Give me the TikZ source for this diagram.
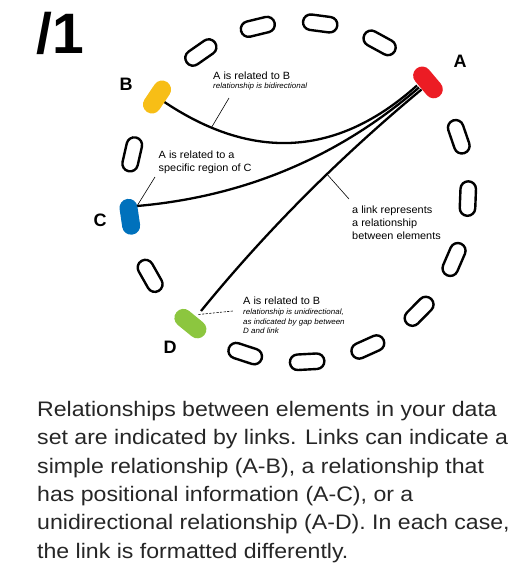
\documentclass[tikz,border=0pt]{standalone}
\usepackage{fontspec}
\setmainfont{Liberation Sans}
\newfontfamily\bodyfont[FakeStretch=1.1]{Liberation Sans}
\newfontfamily\notefont[FakeStretch=1.04]{Liberation Sans}
\usetikzlibrary{calc}
\definecolor{pred}{HTML}{EC1C24}
\definecolor{pyel}{HTML}{F7BE16}
\definecolor{pblue}{HTML}{0071BC}
\definecolor{pgreen}{HTML}{8CC63F}
\begin{document}
\begin{tikzpicture}[x=1pt,y=-1pt,
  pillo/.style={draw=black, line width=2.4pt, rounded corners=7.7pt, minimum width=34.5pt, minimum height=15.5pt, inner sep=0pt, outer sep=0pt},
  pillf/.style={fill=#1, rounded corners=8.9pt, minimum width=36pt, minimum height=18pt, inner sep=0pt, outer sep=0pt},
  link/.style={line width=2.3pt},
  leader/.style={line width=0.6pt},
  lab/.style={font=\bfseries\fontsize{18}{18}\selectfont, inner sep=0pt},
  note/.style={font=\notefont\fontsize{10.5}{12}\selectfont, inner sep=0pt, anchor=base west},
  subnote/.style={font=\notefont\itshape\fontsize{7.7}{9}\selectfont, inner sep=0pt, anchor=base west},
  body/.style={font=\bodyfont\fontsize{21}{28}\selectfont, inner sep=0pt, anchor=base west, text=black!85}
]
\useasboundingbox (0,0) rectangle (525,576);
\coordinate (O) at (298,192);
% outlined pills
\foreach \k in {0,1,2,4,6,8,9,10,11,12,13,14,16}{
  \pgfmathsetmacro{\ang}{82.5+21.176*\k}
  \node[pillo, rotate=\ang+90] (p\k) at ({298+170*cos(\ang)},{192-170*sin(\ang)}) {};
}
% coloured pill positions
\pgfmathsetmacro{\aA}{82.5+21.176*15}
\pgfmathsetmacro{\aB}{82.5+21.176*3}
\pgfmathsetmacro{\aC}{82.5+21.176*5}
\pgfmathsetmacro{\aD}{82.5+21.176*7}
\coordinate (Apos) at ({298+170*cos(\aA)},{192-170*sin(\aA)});
\coordinate (Bpos) at ({298+170*cos(\aB)},{192-170*sin(\aB)});
\coordinate (Cpos) at ({298+170*cos(\aC)},{192-170*sin(\aC)});
\coordinate (Dpos) at ({298+170*cos(\aD)},{192-170*sin(\aD)});
% link end points
\coordinate (aB) at (417,85.5);
\coordinate (aC) at (419,87.5);
\coordinate (aD) at (421.5,89.5);
\coordinate (bA) at (163.5,101.4);
\coordinate (cA) at (137,206);
\coordinate (dA) at (201,311);
% links
\draw[link] (aB) .. controls ($(aB)!0.6667!(O)$) and ($(bA)!0.6667!(O)$) .. (bA) coordinate[pos=0.82] (onAB);
\draw[link] (aC) .. controls ($(aC)!0.6667!(O)$) and ($(cA)!0.6667!(O)$) .. (cA);
\draw[link] (aD) .. controls ($(aD)!0.6667!(O)$) and ($(dA)!0.6667!(O)$) .. (dA) coordinate[pos=0.4] (onAD);
% coloured pills
\node[pillf=pred, rotate=\aA+90] (A) at (Apos) {};
\node[pillf=pyel, rotate=\aB+90] (B) at (Bpos) {};
\node[pillf=pblue, rotate=\aC+90] (C) at (Cpos) {};
\node[pillf=pgreen, rotate=\aD+90] (D) at (Dpos) {};
% letters
\node[lab] (lA) at (460,61) {A};
\node[lab] (lB) at (126,84) {B};
\node[lab] (lC) at (100,220.5) {C};
\node[lab] (lD) at (170,347) {D};
% title
\node[font=\bfseries\fontsize{57}{57}\selectfont, inner sep=0pt, anchor=base west] (title) at (36,53) {/1};
% notes
\node[note] (n1) at (213,79) {A is related to B};
\node[subnote] (n1s) at (213,88.5) {relationship is bidirectional};
\node[note] (n2a) at (158.5,158) {A is related to a};
\node[note] (n2b) at (158.5,171) {specific region of C};
\node[note] (n3a) at (352,213) {a link represents};
\node[note] (n3b) at (352,226) {a relationship};
\node[note] (n3c) at (352,239.5) {between elements};
\node[note] (n4) at (243,304) {A is related to B};
\node[subnote] (n4a) at (243,314.5) {relationship is unidirectional,};
\node[subnote] (n4b) at (243,324) {as indicated by gap between};
\node[subnote] (n4c) at (243,333.5) {D and link};
% leaders
\coordinate (l1) at (229,98);
\coordinate (l2) at (155,177);
\coordinate (l3) at (349,199);
\coordinate (l4) at (233,311);
\coordinate (gapD) at (198.5,314.5);
\draw[leader] (l1) -- (onAB);
\draw[leader] (l2) -- (cA);
\draw[leader] (onAD) -- (l3);
\draw[leader, dash pattern=on 2.2pt off 1.4pt] (gapD) -- (l4);
% body text
\node[body] (t1) at (37,416) {Relationships between elements in your data};
\node[body] (t2) at (37,444.5) {set are indicated by links. Links can indicate a};
\node[body] (t3) at (37,473) {simple relationship (A-B), a relationship that};
\node[body] (t4) at (37,501) {has positional information (A-C), or a};
\node[body] (t5) at (37,529.5) {unidirectional relationship (A-D). In each case,};
\node[body] (t6) at (37,558) {the link is formatted differently.};
\end{tikzpicture}
\end{document}
